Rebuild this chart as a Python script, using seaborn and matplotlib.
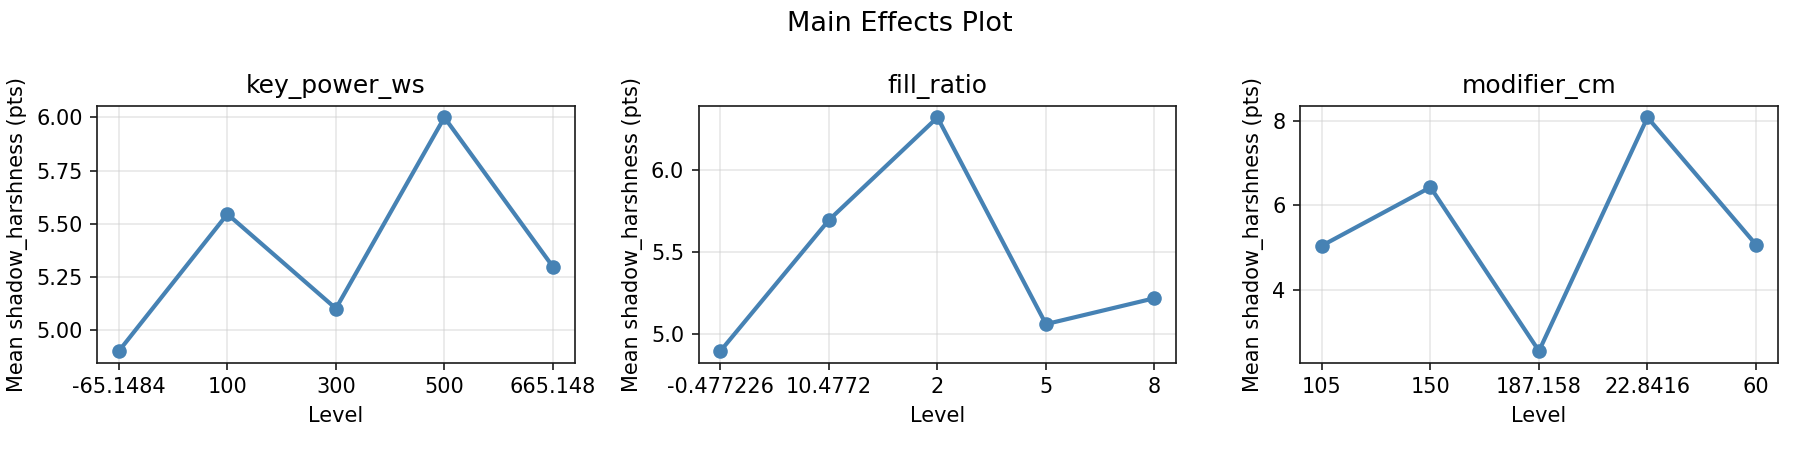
import matplotlib
matplotlib.use("Agg")
import matplotlib.pyplot as plt
import seaborn as sns

# Data
factors = ["key_power_ws", "fill_ratio", "modifier_cm"]
levels_key_power = ["-65.1484", "100", "300", "500", "665.148"]
means_key_power = [4.90, 5.545, 5.10, 6.00, 5.297]
levels_fill_ratio = ["-0.477226", "10.4772", "2", "5", "8"]
means_fill_ratio = [4.894, 5.693, 6.319, 5.058, 5.216]
levels_modifier = ["105", "150", "187.158", "22.8416", "60"]
means_modifier = [5.05, 6.43, 2.56, 8.08, 5.075]

panels = [
    (factors[0], levels_key_power, means_key_power),
    (factors[1], levels_fill_ratio, means_fill_ratio),
    (factors[2], levels_modifier, means_modifier),
]

sns.set_style("ticks")
plt.rcParams["font.family"] = ["DejaVu Sans"]
plt.rcParams["text.color"] = "black"
plt.rcParams["axes.labelcolor"] = "black"
plt.rcParams["xtick.color"] = "#1a1a1a"
plt.rcParams["ytick.color"] = "#1a1a1a"
plt.rcParams["xtick.labelcolor"] = "black"
plt.rcParams["ytick.labelcolor"] = "black"
plt.rcParams["axes.edgecolor"] = "#1a1a1a"

fig, axes = plt.subplots(1, 3, figsize=(12, 3), dpi=150)
color = "#4682B4"
for ax, (name, levels, means) in zip(axes, panels):
    sns.lineplot(x=levels, y=means, ax=ax, sort=False, color=color,
                 marker="o", markersize=7, linewidth=2,
                 markeredgecolor=color, markeredgewidth=0)
    ax.set_title(name, fontsize=12, color="black")
    ax.set_xlabel("Level", fontsize=10)
    ax.set_ylabel("Mean shadow_harshness (pts)", fontsize=10)
    ax.grid(True, color="#cccccc", alpha=0.45, linewidth=0.8)
    ax.tick_params(labelsize=10)
    ax.margins(x=0.05, y=0.05)

fig.suptitle("Main Effects Plot", fontsize=13, y=0.975)
fig.subplots_adjust(left=0.054, right=0.9876, top=0.765, bottom=0.194, wspace=0.26)
fig.savefig("out.png", dpi=150)
